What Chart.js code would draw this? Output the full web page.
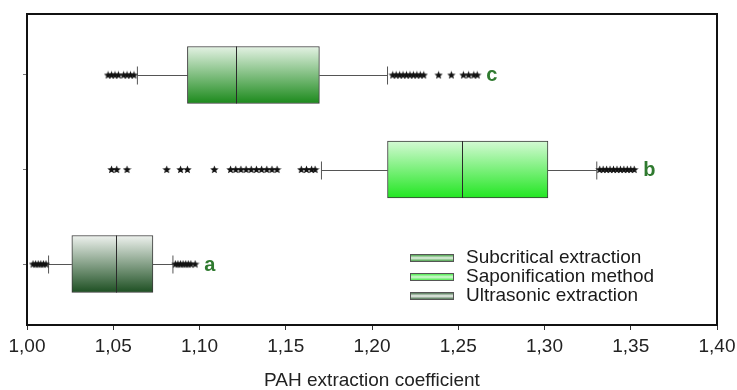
<!DOCTYPE html>
<html>
<head>
<meta charset="utf-8">
<title>PAH extraction coefficient</title>
<script src="https://cdn.jsdelivr.net/npm/chart.js"></script>
<style>
  body { margin: 0; background: #fff; }
  #wrap { width: 737px; height: 390px; position: relative; }
</style>
</head>
<body>
<div id="wrap"><canvas id="boxChart"></canvas></div>
<script>
// groups from bottom (0) to top (2)
const groups = ['a', 'b', 'c'];
const seriesNames = ['Ultrasonic extraction', 'Saponification method', 'Subcritical extraction'];
const q1 = [1.026, 1.209, 1.093];
const median = [1.0515, 1.252, 1.121];
const q3 = [1.073, 1.302, 1.1695];
const whiskerLow = [1.0125, 1.1707, 1.064];
const whiskerHigh = [1.0846, 1.3303, 1.209];
const outliersA = [1.0035, 1.005, 1.0065, 1.008, 1.0095, 1.011,
  1.086, 1.0875, 1.089, 1.0905, 1.092, 1.0935, 1.095, 1.0975];
const outliersB = [1.049, 1.052, 1.058, 1.081, 1.089, 1.093, 1.1086,
  1.118, 1.121, 1.124, 1.127, 1.13, 1.133, 1.136, 1.139, 1.142, 1.145,
  1.159, 1.162, 1.165, 1.167,
  1.332, 1.334, 1.336, 1.338, 1.34, 1.342, 1.344, 1.346, 1.348, 1.35, 1.352];
const outliersC = [1.047, 1.049, 1.051, 1.053, 1.056, 1.058, 1.06, 1.062,
  1.212, 1.214, 1.216, 1.218, 1.22, 1.222, 1.224, 1.226, 1.228, 1.23,
  1.2386, 1.246, 1.253, 1.256, 1.259, 1.261];
const outliers = [outliersA, outliersB, outliersC];
const xTicks = [1.00, 1.05, 1.10, 1.15, 1.20, 1.25, 1.30, 1.35, 1.40];

// box colours, top -> bottom of gradient
const fills = [
  ['#eef2ee', '#1d4f22'],
  ['#d4fad4', '#22e622'],
  ['#e4f2e4', '#1c8a1c']
];
const BOX_H = 57;
const FONT = '"Liberation Sans", Arial, sans-serif';
Chart.defaults.font.family = FONT;

// filled star marker for the outliers
const star = document.createElement('canvas');
star.width = 9; star.height = 9;
(function () {
  const c = star.getContext('2d');
  c.fillStyle = '#111';
  c.beginPath();
  for (let i = 0; i < 10; i++) {
    const r = i % 2 === 0 ? 4.4 : 1.9;
    const a = -Math.PI / 2 + i * Math.PI / 5;
    const px = 4.5 + r * Math.cos(a), py = 4.8 + r * Math.sin(a);
    if (i === 0) c.moveTo(px, py); else c.lineTo(px, py);
  }
  c.closePath();
  c.fill();
})();

function boxGradient(ctx, idx) {
  const chart = ctx.chart;
  const ys = chart.scales.y;
  if (!ys || !chart.chartArea) return fills[idx][1];
  const yc = ys.getPixelForValue(idx);
  const g = chart.ctx.createLinearGradient(0, yc - BOX_H / 2, 0, yc + BOX_H / 2);
  g.addColorStop(0, fills[idx][0]);
  g.addColorStop(1, fills[idx][1]);
  return g;
}

const datasets = [];
groups.forEach((g, i) => {
  datasets.push({
    type: 'bar',
    label: seriesNames[i],
    indexAxis: 'y',
    data: [{ x: [q1[i], q3[i]], y: i }],
    backgroundColor: ctx => boxGradient(ctx, i),
    borderColor: '#3a3a3a',
    borderWidth: 1,
    borderSkipped: false,
    barThickness: BOX_H,
    grouped: false,
    order: 2
  });
});
groups.forEach((g, i) => {
  datasets.push({
    type: 'scatter',
    label: 'out ' + g,
    data: outliers[i].map(v => ({ x: v, y: i })),
    pointStyle: star,
    pointRadius: 4,
    order: 0
  });
});

const boxExtras = {
  id: 'boxExtras',
  beforeDatasetsDraw(chart) {
    const { ctx, scales: { x, y } } = chart;
    ctx.save();
    ctx.strokeStyle = '#555';
    ctx.lineWidth = 1;
    groups.forEach((g, i) => {
      const yc = Math.round(y.getPixelForValue(i)) + 0.5;
      const lo = x.getPixelForValue(whiskerLow[i]);
      const hi = x.getPixelForValue(whiskerHigh[i]);
      ctx.beginPath();
      ctx.moveTo(lo, yc); ctx.lineTo(x.getPixelForValue(q1[i]), yc);
      ctx.moveTo(x.getPixelForValue(q3[i]), yc); ctx.lineTo(hi, yc);
      ctx.moveTo(lo, yc - 9); ctx.lineTo(lo, yc + 9);
      ctx.moveTo(hi, yc - 9); ctx.lineTo(hi, yc + 9);
      ctx.stroke();
    });
    ctx.restore();
  },
  afterDatasetsDraw(chart) {
    const { ctx, scales: { x, y }, chartArea } = chart;
    ctx.save();
    // medians
    ctx.strokeStyle = '#2a2a2a';
    ctx.lineWidth = 1;
    groups.forEach((g, i) => {
      const yc = y.getPixelForValue(i);
      const mx = Math.round(x.getPixelForValue(median[i])) + 0.5;
      ctx.beginPath();
      ctx.moveTo(mx, yc - BOX_H / 2); ctx.lineTo(mx, yc + BOX_H / 2);
      ctx.stroke();
    });
    // group letters
    ctx.fillStyle = '#2f7a2f';
    ctx.font = 'bold 20px ' + FONT;
    ctx.textBaseline = 'middle';
    groups.forEach((g, i) => {
      const maxV = Math.max(whiskerHigh[i], ...outliers[i]);
      ctx.fillText(g, x.getPixelForValue(maxV) + 9, y.getPixelForValue(i) + 1);
    });
    // top and right frame
    ctx.strokeStyle = '#111';
    ctx.lineWidth = 2;
    ctx.beginPath();
    ctx.moveTo(chartArea.left, chartArea.top);
    ctx.lineTo(chartArea.right, chartArea.top);
    ctx.lineTo(chartArea.right, chartArea.bottom);
    ctx.stroke();
    // legend
    const order = [2, 1, 0];
    order.forEach((idx, r) => {
      const ly = 258 + r * 19;
      const g = ctx.createLinearGradient(0, ly - 4, 0, ly + 4);
      g.addColorStop(0, fills[idx][1]);
      g.addColorStop(0.5, fills[idx][0]);
      g.addColorStop(1, fills[idx][1]);
      ctx.fillStyle = g;
      ctx.fillRect(410, ly - 4, 44, 8);
      ctx.strokeStyle = '#555';
      ctx.lineWidth = 1;
      ctx.strokeRect(410.5, ly - 3.5, 43, 7);
      ctx.fillStyle = '#1a1a1a';
      ctx.font = '19px ' + FONT;
      ctx.textBaseline = 'middle';
      ctx.fillText(seriesNames[idx], 466, ly);
    });
    ctx.restore();
  }
};

new Chart(document.getElementById('boxChart'), {
  type: 'bar',
  data: { datasets },
  options: {
    responsive: true,
    maintainAspectRatio: false,
    animation: false,
    events: [],
    layout: { padding: { top: 14, right: 20, left: 0, bottom: 0 } },
    plugins: { legend: { display: false }, tooltip: { enabled: false } },
    scales: {
      x: {
        type: 'linear',
        position: 'bottom',
        offset: false,
        min: 1.0,
        max: 1.4,
        afterBuildTicks: s => { s.ticks = xTicks.map(v => ({ value: v })); },
        afterFit: s => { s.height = 65; s.paddingLeft = 0; s.paddingRight = 0; },
        ticks: {
          color: '#222',
          font: { size: 19 },
          padding: 5,
          maxRotation: 0,
          callback: v => v.toFixed(2).replace('.', ',')
        },
        grid: { offset: false, drawOnChartArea: false, drawTicks: true, tickLength: 5, color: '#333' },
        border: { display: true, color: '#111', width: 2 },
        title: {
          display: true,
          text: 'PAH extraction coefficient',
          color: '#222',
          font: { size: 19, lineHeight: 1 },
          padding: { top: 0, bottom: 0 }
        }
      },
      y: {
        type: 'linear',
        position: 'left',
        offset: false,
        min: -0.645,
        max: 2.645,
        afterBuildTicks: s => { s.ticks = groups.map((g, i) => ({ value: i })); },
        afterFit: s => { s.width = 27; },
        ticks: { callback: () => '' },
        grid: { offset: false, drawOnChartArea: false, drawTicks: true, tickLength: 4, color: '#777' },
        border: { display: true, color: '#111', width: 2 }
      }
    }
  },
  plugins: [boxExtras]
});
</script>
</body>
</html>
